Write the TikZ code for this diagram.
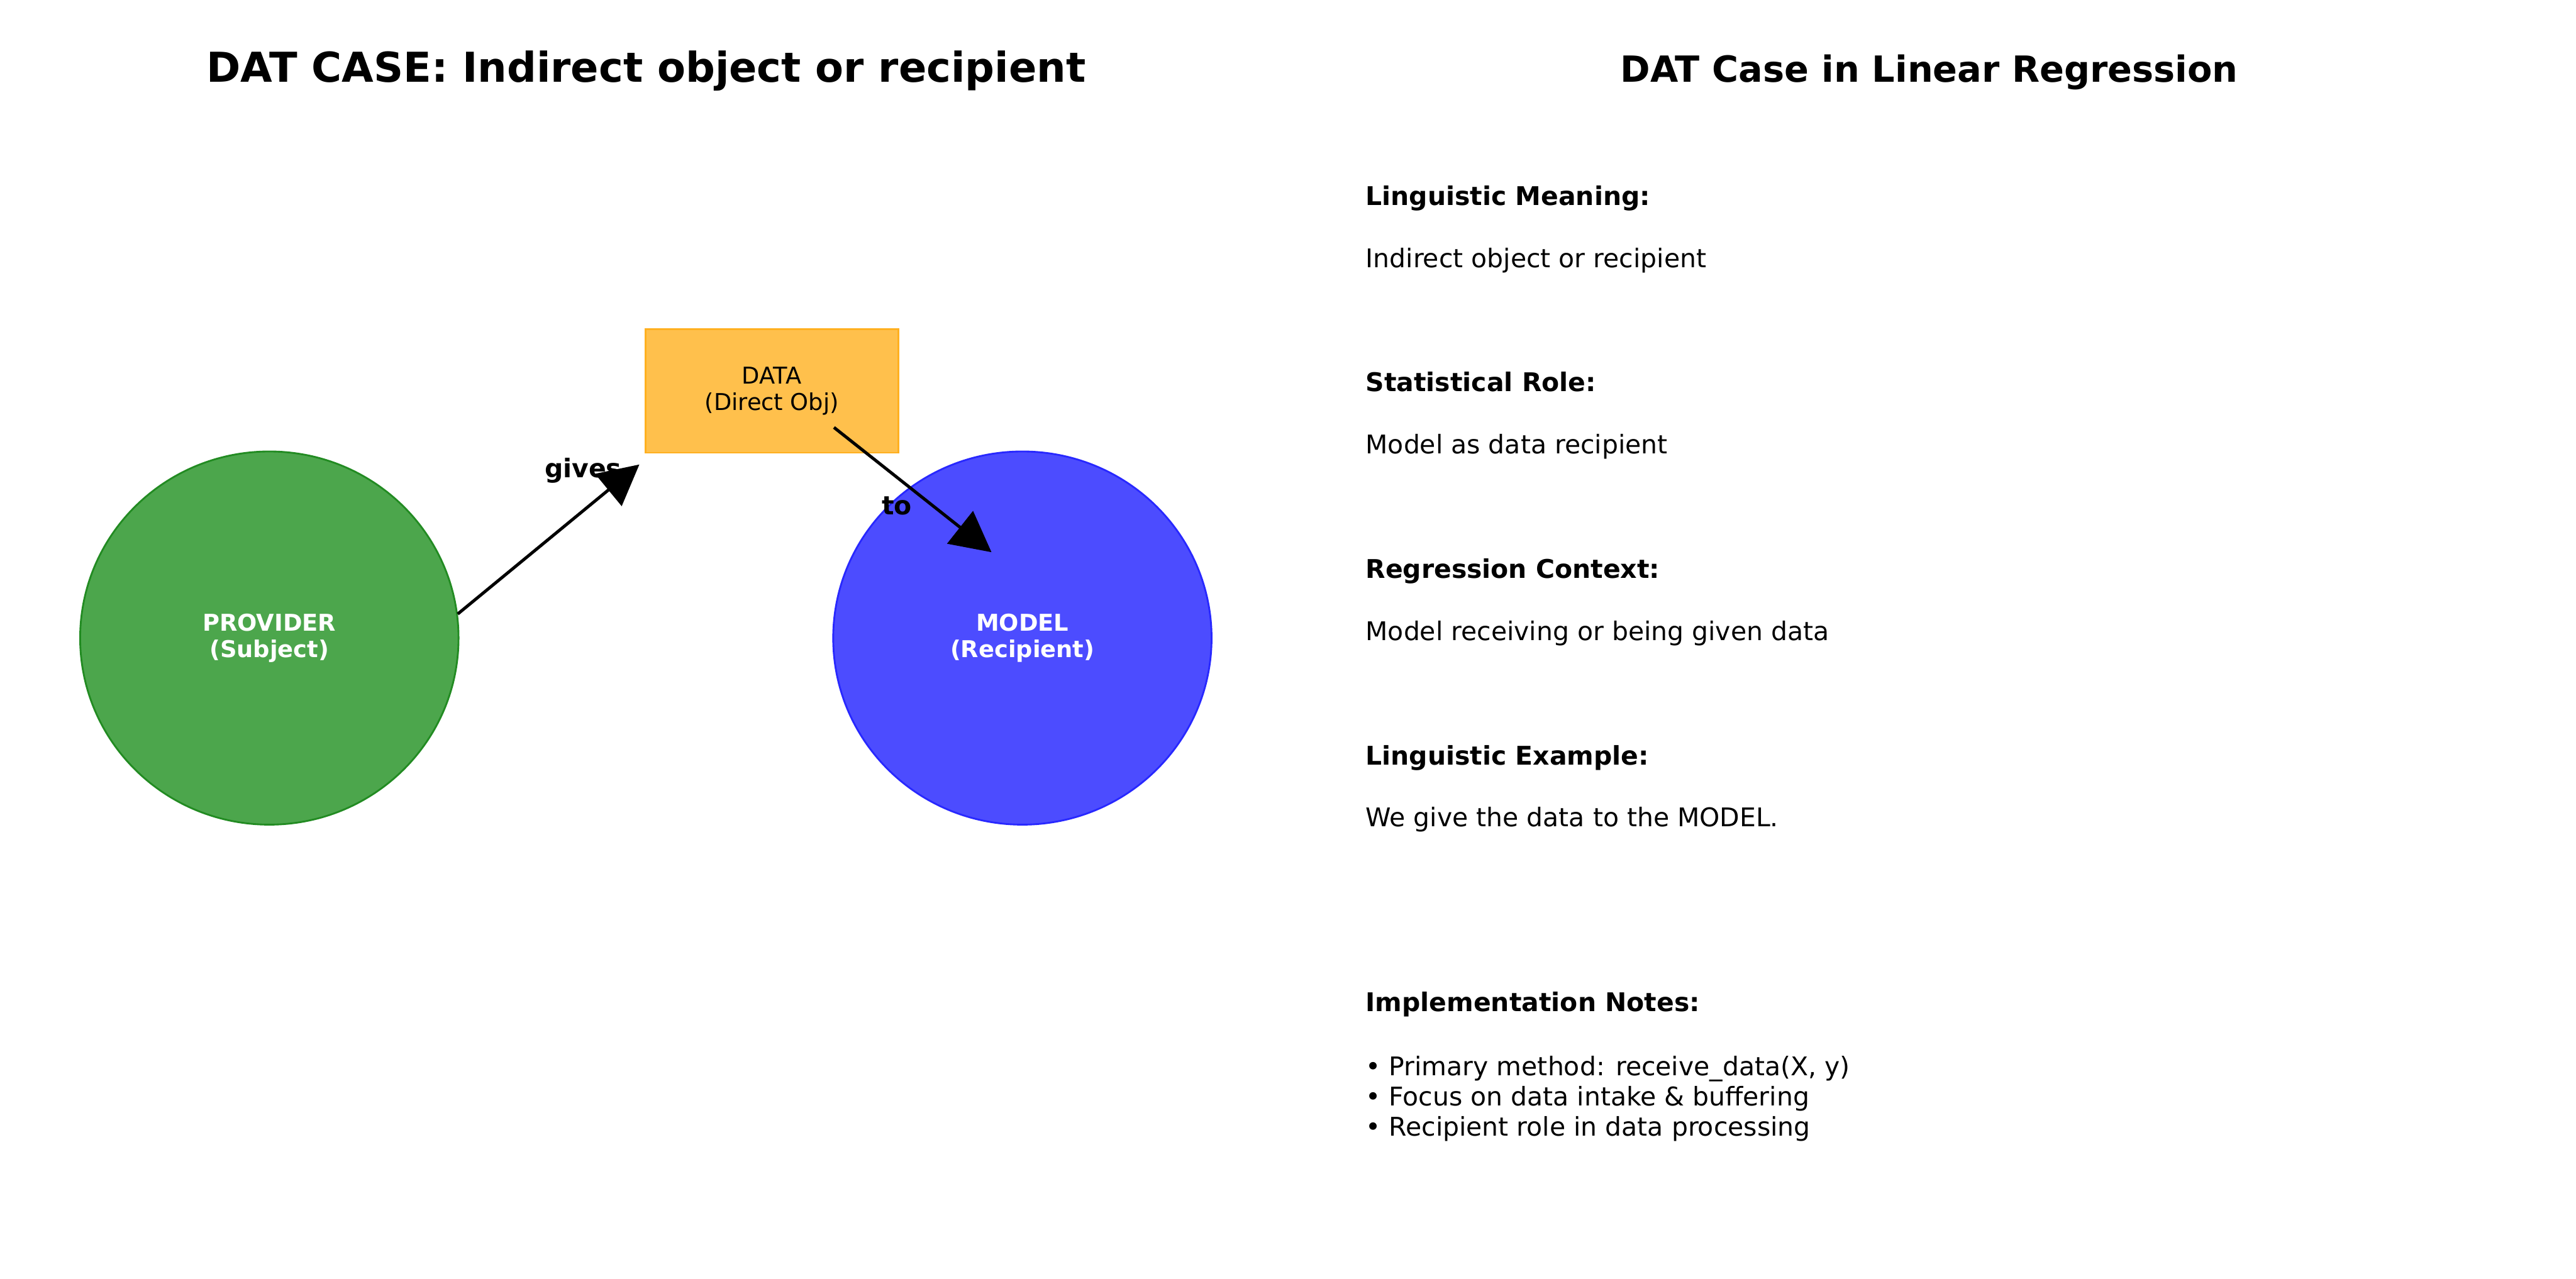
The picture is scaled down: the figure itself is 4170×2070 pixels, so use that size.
\documentclass[tikz,border=0pt]{standalone}
\usepackage{fontspec}
\setmainfont{DejaVu Sans}
\usetikzlibrary{arrows.meta,shapes.geometric}
\definecolor{gfill}{RGB}{76,166,76}
\definecolor{gedge}{RGB}{34,139,34}
\definecolor{bfill}{RGB}{76,76,255}
\definecolor{bedge}{RGB}{40,40,255}
\definecolor{ofill}{RGB}{255,192,76}
\definecolor{oedge}{RGB}{255,176,32}
\tikzset{
  circ/.style={ellipse, inner sep=0pt, minimum width=147pt, minimum height=145pt, line width=0.7pt, text=white, align=center, font=\fontsize{9}{10.4}\selectfont\bfseries},
  databox/.style={rectangle, inner sep=0pt, minimum width=98.2pt, minimum height=48pt, fill=ofill, draw=oedge, line width=0.7pt, align=center, font=\fontsize{9}{10.2}\selectfont},
  conn/.style={line width=1.2pt, -{Triangle[length=15.6pt, width=16pt]}},
  rellabel/.style={inner sep=0pt, anchor=base, font=\fontsize{10}{12}\selectfont\bfseries},
  head/.style={inner sep=0pt, anchor=base west, font=\fontsize{10}{12}\selectfont\bfseries},
  body/.style={inner sep=0pt, anchor=base west, font=\fontsize{10}{12}\selectfont},
  ttl/.style={inner sep=0pt, anchor=base, font=\bfseries}
}
\begin{document}
\begin{tikzpicture}[x=0.24pt, y=-0.24pt]
\useasboundingbox (0,0) rectangle (4170,2070);
% titles
\node[ttl, font=\fontsize{16}{19}\selectfont\bfseries] (t1) at (1046,133) {DAT CASE: Indirect object or recipient};
\node[ttl, font=\fontsize{14}{17}\selectfont\bfseries] (t2) at (3123,133) {DAT Case in Linear Regression};
% nodes
\node[circ, fill=gfill, draw=gedge] (prov) at (436,1033) {PROVIDER\\(Subject)};
\node[circ, fill=bfill, draw=bedge] (model) at (1655,1033) {MODEL\\(Recipient)};
\node[databox] (data) at (1249.5,633) {DATA\\(Direct Obj)};
% labels
\node[rellabel] (gives) at (944,773) {gives};
\node[rellabel] (to) at (1452,833) {to};
% connectors
\coordinate (g1) at (741,994);
\coordinate (g2) at (1035,752);
\coordinate (d1) at (1350,692);
\coordinate (d2) at (1605,894);
\draw[conn] (g1) -- (g2);
\draw[conn] (d1) -- (d2);
% right panel
\node[head] (h1) at (2210,332) {Linguistic Meaning:};
\node[body] (b1) at (2210,433) {Indirect object or recipient};
\node[head] (h2) at (2210,634) {Statistical Role:};
\node[body] (b2) at (2210,735) {Model as data recipient};
\node[head] (h3) at (2210,936) {Regression Context:};
\node[body] (b3) at (2210,1037) {Model receiving or being given data};
\node[head] (h4) at (2210,1238) {Linguistic Example:};
\node[body] (b4) at (2210,1338) {We give the data to the MODEL.};
\node[head] (h5) at (2210,1638) {Implementation Notes:};
\node[body] (b5) at (2210,1741) {• Primary method: receive\_data(X, y)};
\node[body] (b6) at (2210,1790) {• Focus on data intake \& buffering};
\node[body] (b7) at (2210,1839) {• Recipient role in data processing};
\end{tikzpicture}
\end{document}
